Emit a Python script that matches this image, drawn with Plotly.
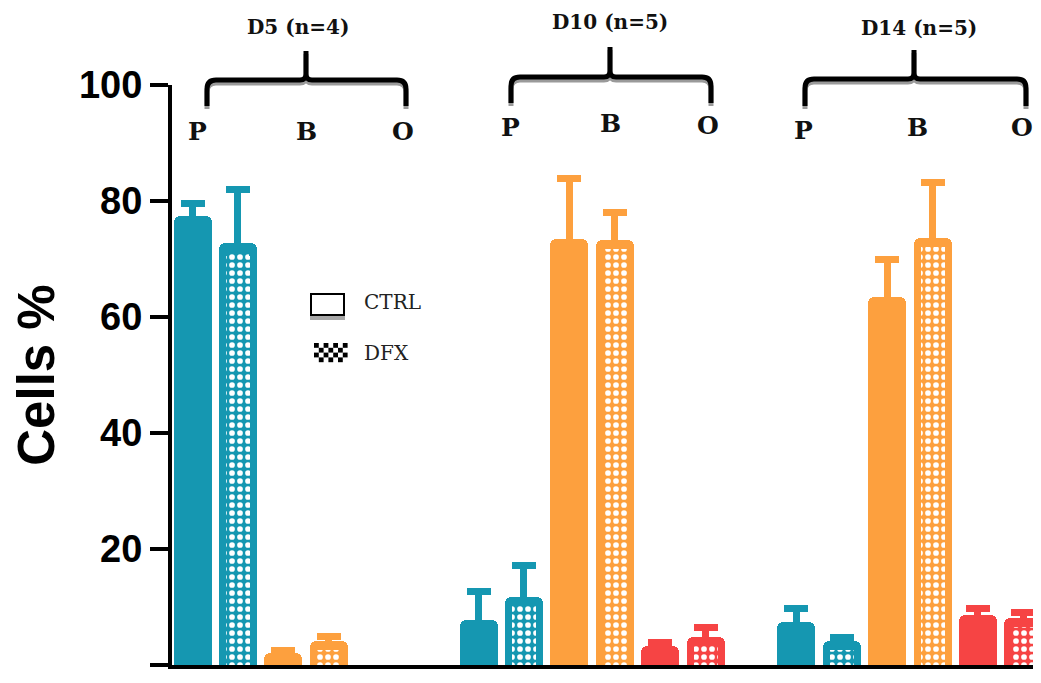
import plotly.graph_objects as go

# ---------------- data ----------------
groups = ["D5 (n=4)", "D10 (n=5)", "D14 (n=5)"]
cell_types = ["P", "B", "O"]
legend_labels = ["CTRL", "DFX"]
y_ticks = [0, 20, 40, 60, 80, 100]

# mean % of cells, per group, order P, B, O  (None = not shown)
ctrl_values = [[77.4, 2.0, None], [7.8, 73.5, 3.3], [7.5, 63.4, 8.6]]
ctrl_errors = [[2.2, 0.5, None], [4.9, 10.4, 0.5], [2.3, 6.6, 1.2]]
dfx_values = [[72.7, 4.2, None], [11.8, 73.2, 4.8], [4.1, 73.6, 8.1]]
dfx_errors = [[9.2, 0.7, None], [5.3, 4.9, 1.6], [0.6, 9.6, 1.0]]

type_colors = {"P": "#1597b1", "B": "#fda03e", "O": "#f64444"}

# ---------------- layout geometry (page has an 8px body margin) ----------------
OFF = 8
VIEW_W, VIEW_H = 1041, 683
W_FIG, H_FIG = VIEW_W - OFF, VIEW_H - OFF
PLOT_L, PLOT_T, PLOT_B = 172, 85, 665          # viewport pixels
M_L, M_R, M_T, M_B = PLOT_L - OFF, 0, PLOT_T - OFF, VIEW_H - PLOT_B
PW = W_FIG - M_L - M_R
PH = H_FIG - M_T - M_B
SLOT_PX = 45.4
group_offsets = [0.0, 6.3, 13.3]
BAR_W = 38 / SLOT_PX
INNER_W = 24 / SLOT_PX
TOP_INSET = 9 * 100 / PH      # data units
LOW_CAP = 6 * 100 / PH        # hide lower error cap inside the bar
x_min = -20.5 / SLOT_PX
x_max = x_min + PW / SLOT_PX


def px(x, y):
    """viewport pixel -> paper coordinates"""
    return (x - PLOT_L) / PW, (PLOT_B - y) / PH


fig = go.Figure()

for ci, (vals, errs) in enumerate([(ctrl_values, ctrl_errors), (dfx_values, dfx_errors)]):
    for t, ct in enumerate(cell_types):
        xs, ys, es = [], [], []
        for g, off in enumerate(group_offsets):
            if vals[g][t] is None:
                continue
            xs.append(off + 2 * t + ci)
            ys.append(vals[g][t])
            es.append(errs[g][t])
        col = type_colors[ct]
        fig.add_trace(go.Bar(
            x=xs, y=ys, width=BAR_W,
            marker=dict(color=col, line=dict(width=0)),
            error_y=dict(type="data", symmetric=False, array=es,
                         arrayminus=[min(LOW_CAP, v * 0.5) for v in ys],
                         thickness=7, width=12, color=col),
            showlegend=False, hoverinfo="skip",
        ))
        if ci == 1:
            fig.add_trace(go.Bar(
                x=xs, y=[v - TOP_INSET for v in ys], width=INNER_W,
                marker=dict(color=col, line=dict(width=0),
                            pattern=dict(shape=".", fgcolor="white", bgcolor=col,
                                         fgopacity=1, size=8, solidity=0.4)),
                showlegend=False, hoverinfo="skip",
            ))

shapes = []
annotations = []

# braces above groups (viewport pixel geometry)
braces = [
    (207, 306, 406, 80, 51, 106, 298, 27, (197, 306, 403), (131, 131, 131)),
    (511, 610, 711, 77, 47, 103, 610, 22, (510, 610, 708), (128, 124, 126)),
    (805, 914, 1026, 79, 50, 106, 919, 28, (803, 917, 1022), (130, 127, 127)),
]


def brace_path(x0, xc, x1, yl, ys, ye, dy=0):
    r = 9
    r2 = 6

    def P(x, y):
        a, b = px(x, y + dy)
        return f"{a:.5f},{b:.5f}"
    return (f"M{P(x0, ye)} L{P(x0, yl + r)} Q{P(x0, yl)} {P(x0 + r, yl)} "
            f"L{P(xc - r2, yl)} Q{P(xc, yl)} {P(xc, yl - r2)} L{P(xc, ys)} "
            f"M{P(xc, ys)} L{P(xc, yl - r2)} Q{P(xc, yl)} {P(xc + r2, yl)} "
            f"L{P(x1 - r, yl)} Q{P(x1, yl)} {P(x1, yl + r)} L{P(x1, ye)}")


for (x0, xc, x1, yl, ys, ye, lx, ly, pbx, pby), gname in zip(braces, groups):
    shapes.append(dict(type="path", xref="paper", yref="paper",
                       path=brace_path(x0, xc, x1, yl, ys, ye, dy=3),
                       line=dict(color="#9a9a9a", width=5), layer="above"))
    shapes.append(dict(type="path", xref="paper", yref="paper",
                       path=brace_path(x0, xc, x1, yl, ys, ye),
                       line=dict(color="black", width=5), layer="above"))
    ax, ay = px(lx, ly)
    annotations.append(dict(x=ax, y=ay, xref="paper", yref="paper", text=gname,
                            showarrow=False, xanchor="center", yanchor="middle",
                            font=dict(family="DejaVu Serif", size=20, color="#111",
                                      weight="bold")))
    for lab, bx, by in zip(cell_types, pbx, pby):
        ax, ay = px(bx, by)
        annotations.append(dict(x=ax, y=ay, xref="paper", yref="paper", text=lab,
                                showarrow=False, xanchor="center", yanchor="middle",
                                font=dict(family="DejaVu Serif", size=25, color="#111",
                                          weight="bold")))

# legend (drawn)
a0 = px(310, 315)
a1 = px(345, 320)
shapes.append(dict(type="rect", xref="paper", yref="paper", x0=a0[0], x1=a1[0],
                   y0=a1[1], y1=a0[1], fillcolor="#a8a8a8", line=dict(width=0)))
b0 = px(311, 294)
b1 = px(344, 315)
shapes.append(dict(type="rect", xref="paper", yref="paper", x0=b0[0], x1=b1[0],
                   y0=b1[1], y1=b0[1], fillcolor="white",
                   line=dict(color="black", width=2)))
cell = 4.8
for i in range(7):
    for j in range(4):
        if (i + j) % 2 == 0:
            c0 = px(314 + i * cell, 343 + j * cell)
            c1 = px(314 + (i + 1) * cell, 343 + (j + 1) * cell)
            shapes.append(dict(type="rect", xref="paper", yref="paper",
                               x0=c0[0], x1=c1[0], y0=c1[1], y1=c0[1],
                               fillcolor="black", line=dict(width=0)))
for lab, (lx, ly) in zip(legend_labels, [(362, 302), (362, 353)]):
    ax, ay = px(lx, ly)
    annotations.append(dict(x=ax, y=ay, xref="paper", yref="paper", text=lab,
                            showarrow=False, xanchor="left", yanchor="middle",
                            font=dict(family="DejaVu Serif", size=20, color="#222")))

fig.update_layout(
    width=W_FIG, height=H_FIG,
    margin=dict(l=M_L, r=M_R, t=M_T, b=M_B, pad=0),
    paper_bgcolor="white", plot_bgcolor="white",
    barmode="overlay", barcornerradius=6, bargap=0,
    shapes=shapes, annotations=annotations, showlegend=False,
    xaxis=dict(range=[x_min, x_max], showline=True, linecolor="black", linewidth=4,
               showticklabels=False, ticks="", showgrid=False, zeroline=False,
               fixedrange=True),
    yaxis=dict(range=[0, 100], tickvals=y_ticks, showline=True, linecolor="black",
               linewidth=4, ticks="outside", ticklen=18, tickwidth=4,
               tickcolor="black", showgrid=False, zeroline=False,
               tickfont=dict(family="Liberation Sans", size=38, color="black",
                             weight="bold"),
               title=dict(text="Cells %", standoff=16,
                          font=dict(family="Liberation Sans", size=51, color="black",
                                    weight="bold"))),
)

fig.write_html("out.html")
